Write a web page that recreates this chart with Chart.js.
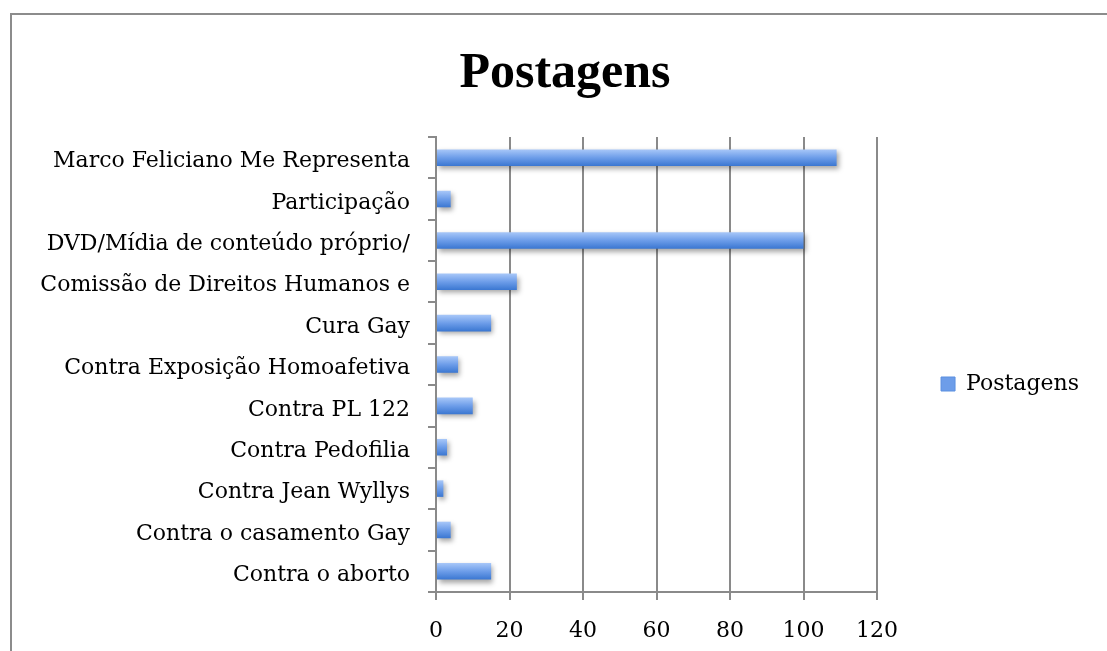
<!DOCTYPE html>
<html>
<head>
<meta charset="utf-8">
<script src="https://cdn.jsdelivr.net/npm/chart.js@4.4.1/dist/chart.umd.min.js"></script>
<style>
  html, body { margin: 0; padding: 0; background: #fff; overflow: hidden; }
  #frame {
    position: absolute; left: 10px; top: 13px; width: 1200px; height: 700px;
    border-left: 2px solid #8c8c8c; border-top: 2px solid #8c8c8c;
  }
  /* canvas is taller than the window so the legend lands where it sits in the picture */
  #wrap { position: absolute; left: 0; top: 0; width: 1089px; height: 768px; }
</style>
</head>
<body>
<div id="frame"></div>
<div id="wrap"><canvas id="chart"></canvas></div>
<script>
const categories = [
  "Marco Feliciano Me Representa",
  "Participação",
  "DVD/Mídia de conteúdo próprio/",
  "Comissão de Direitos Humanos e",
  "Cura Gay",
  "Contra Exposição Homoafetiva",
  "Contra PL 122",
  "Contra Pedofilia",
  "Contra Jean Wyllys",
  "Contra o casamento Gay",
  "Contra o aborto"
];
const postagens = [109, 4, 100, 22, 15, 6, 10, 3, 2, 4, 15];
const xTicks = [0, 20, 40, 60, 80, 100, 120];

const serif = "'DejaVu Serif', serif";

// blue bar with a light top and darker bottom
function barFill(ctx) {
  const chart = ctx.chart;
  const y = chart.scales.y ? chart.scales.y.getPixelForValue(ctx.dataIndex) : 0;
  if (!chart.chartArea || isNaN(y)) return "#6a9ae8";
  const g = chart.ctx.createLinearGradient(0, y - 8, 0, y + 8);
  g.addColorStop(0, "#a6c6f8");
  g.addColorStop(0.5, "#6d9de9");
  g.addColorStop(1, "#3c78d2");
  return g;
}

const shadow = {
  id: "shadow",
  beforeDatasetsDraw(chart) {
    const c = chart.ctx;
    c.save();
    c.shadowColor = "rgba(0,0,0,0.35)";
    c.shadowBlur = 5;
    c.shadowOffsetX = 2;
    c.shadowOffsetY = 3;
  },
  afterDatasetsDraw(chart) {
    chart.ctx.restore();
  }
};

new Chart(document.getElementById("chart"), {
  type: "bar",
  data: {
    labels: categories,
    datasets: [{
      label: "Postagens",
      data: postagens,
      backgroundColor: barFill,
      borderWidth: 0,
      barPercentage: 0.4,
      categoryPercentage: 1
    }]
  },
  options: {
    indexAxis: "y",
    responsive: true,
    maintainAspectRatio: false,
    animation: false,
    layout: { padding: { left: 41, right: 0, top: 0, bottom: 0 } },
    plugins: {
      title: {
        display: true,
        text: "Postagens",
        color: "#000",
        font: { family: "'Liberation Serif', serif", size: 50, weight: "bold" },
        padding: { top: 44, bottom: 33 }
      },
      legend: {
        position: "right",
        labels: {
          color: "#000",
          font: { family: serif, size: 22 },
          boxWidth: 14,
          boxHeight: 14,
          padding: 64,
          generateLabels(chart) {
            return [{
              text: "Postagens",
              fillStyle: "#6d9de9",
              strokeStyle: "#5a8fe0",
              lineWidth: 1,
              datasetIndex: 0
            }];
          }
        }
      },
      tooltip: { enabled: false }
    },
    scales: {
      x: {
        min: 0,
        max: 120,
        afterBuildTicks(scale) {
          scale.ticks = xTicks.map(v => ({ value: v }));
        },
        afterFit(scale) { scale.height = 176; },
        ticks: {
          color: "#000",
          font: { family: serif, size: 22 },
          padding: 18
        },
        grid: { color: "#8a8a8a", lineWidth: 2, tickLength: 8 },
        border: { color: "#8a8a8a", width: 2 }
      },
      y: {
        afterFit(scale) { scale.width = 395; },
        ticks: {
          color: "#000",
          font: { family: serif, size: 22 },
          padding: 18,
          labelOffset: 4
        },
        grid: { drawOnChartArea: false, offset: true, color: "#8a8a8a", lineWidth: 2, tickLength: 8 },
        border: { color: "#8a8a8a", width: 2 }
      }
    }
  },
  plugins: [shadow]
});
</script>
</body>
</html>
